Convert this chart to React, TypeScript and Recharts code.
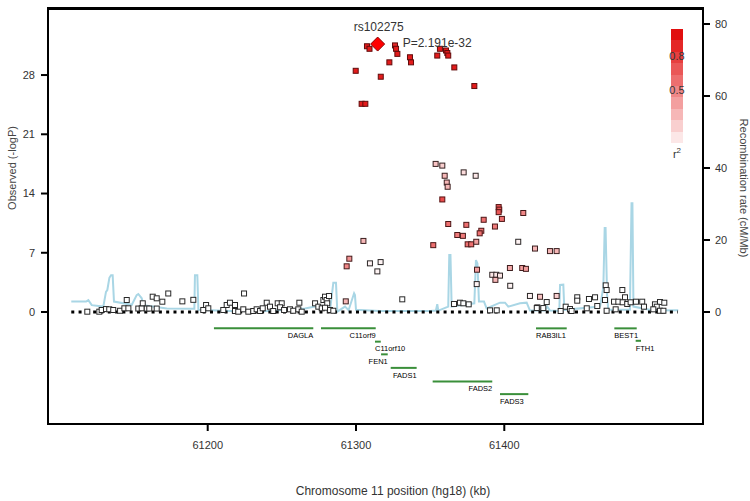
import React from 'react';
import { ComposedChart, Line, Scatter, XAxis, YAxis, ReferenceArea } from 'recharts';

const FONT = '"Liberation Sans", Arial, sans-serif';

// axes (kb on x, -logP on the left, cM/Mb on the right)
const xDomain: [number, number] = [61092.3, 61534];
const logPDomain: [number, number] = [-13.23, 35.92];
const recombDomain: [number, number] = [-31.11, 84.44];
const xTicks = [61200, 61300, 61400];
const logPTicks = [0, 7, 14, 21, 28];
const recombTicks = [0, 20, 40, 60, 80];

// index SNP
const leadName = 'rs102275';
const leadPvalue = 'P=2.191e-32';
const leadPos = 61314.6;
const leadLogP = 31.66;

// [position kb, -logP, r2]
const strongSnps: [number, number, number][] = [
  [61307.4, 31.4, 0.95], [61309.1, 31.1, 0.95], [61326.3, 31.5, 0.9], [61327.0, 31.1, 0.95],
  [61327.9, 30.5, 0.95], [61322.5, 29.5, 0.95], [61336.4, 30.1, 0.95], [61337.1, 29.5, 0.95],
  [61354.8, 30.3, 0.95], [61356.6, 31.1, 0.95], [61360.7, 30.9, 0.95], [61361.6, 30.6, 0.95],
  [61362.2, 30.3, 0.95], [61366.3, 28.9, 0.95], [61379.8, 26.7, 0.95], [61299.8, 28.5, 0.95],
  [61316.7, 27.8, 0.95], [61303.8, 24.6, 0.95], [61306.3, 24.6, 0.95],
];

const moderateSnps: [number, number, number][] = [
  [61358.2, 13.3, 0.75], [61396.2, 12.4, 0.7], [61396.6, 12.1, 0.7], [61396.2, 11.8, 0.7],
  [61412.8, 11.7, 0.5], [61398.4, 11.0, 0.6], [61386.1, 10.9, 0.6], [61362.2, 10.4, 0.6],
  [61374.4, 10.3, 0.6], [61393.7, 10.1, 0.55], [61384.5, 9.6, 0.6], [61383.4, 9.3, 0.6],
  [61368.3, 9.1, 0.55], [61372.1, 9.0, 0.55], [61375.3, 8.0, 0.6], [61377.7, 8.0, 0.6],
  [61381.1, 8.3, 0.4], [61352.1, 7.9, 0.6], [61420.7, 7.5, 0.3], [61430.8, 7.2, 0.3],
  [61435.3, 7.2, 0.3], [61353.7, 17.5, 0.25], [61358.2, 17.3, 0.2], [61359.8, 16.1, 0.3],
  [61372.6, 16.5, 0.15], [61380.7, 16.1, 0.1], [61361.2, 15.3, 0.3], [61361.8, 14.8, 0.3],
  [61305.0, 8.4, 0.3], [61295.5, 6.3, 0.45], [61293.7, 5.4, 0.5], [61381.6, 5.0, 0.4],
  [61394.0, 3.8, 0.3], [61403.8, 5.2, 0.35], [61412.1, 5.2, 0.4], [61414.6, 5.1, 0.4],
  [61293.1, 1.26, 0.3], [61424.1, 1.8, 0.25], [61435.3, 1.9, 0.2],
];

const weakSnps: [number, number, number][] = [
  [61409.4, 8.3, 0.05], [61309.4, 5.75, 0.05], [61316.6, 5.9, 0.05], [61314.4, 4.8, 0.05],
  [61381.4, 3.3, 0.05], [61391.9, 4.4, 0.1], [61394.6, 4.4, 0.1], [61397.1, 4.3, 0.1],
  [61404.0, 3.1, 0.05], [61417.3, 1.9, 0.05], [61422.3, 0.55, 0.05],
  [61118.8, 0.04, 0], [61126.9, 0.04, 0], [61128.5, 0.24, 0], [61131.4, 0.35, 0],
  [61133.6, 0.32, 0], [61136.3, 0.24, 0], [61140.9, 0.15, 0], [61143.8, 0.44, 0],
  [61145.4, 1.42, 0], [61146.5, 0.44, 0], [61153.2, 0.41, 0], [61155.5, 0.44, 0],
  [61156.2, 1.03, 0], [61158.9, 0.41, 0], [61160.6, 0.41, 0], [61162.9, 1.81, 0],
  [61165.6, 1.62, 0], [61165.6, 0.41, 0], [61169.4, 1.22, 0], [61173.4, 2.19, 0],
  [61182.9, 1.26, 0], [61190.3, 1.44, 0], [61198.9, 0.83, 0], [61197.0, 0.24, 0],
  [61200.4, 0.44, 0], [61210.5, 0.24, 0], [61212.8, 0.83, 0], [61215.0, 1.1, 0],
  [61218.4, 0.83, 0], [61224.5, 2.19, 0], [61218.4, 0.12, 0], [61220.6, 0.04, 0],
  [61224.0, 0.32, 0], [61227.4, 0.04, 0], [61230.7, 0.12, 0], [61233.0, 0.32, 0],
  [61235.3, 0.12, 0], [61237.1, 0.44, 0], [61239.8, 1.1, 0], [61242.0, 0.63, 0],
  [61244.2, 0.12, 0], [61247.2, 1.03, 0], [61249.9, 1.03, 0], [61248.8, 0.56, 0],
  [61251.5, 0.24, 0], [61255.5, 0.32, 0], [61257.7, 0.15, 0], [61261.8, 1.1, 0],
  [61261.1, 0.32, 0], [61263.4, 0.04, 0], [61272.4, 1.03, 0], [61274.6, 0.63, 0],
  [61278.0, 1.42, 0], [61279.1, 1.81, 0], [61280.2, 1.42, 0], [61280.6, 1.03, 0],
  [61281.8, 1.89, 0], [61276.9, 0.44, 0], [61279.1, 0.51, 0], [61282.5, 0.24, 0],
  [61284.7, 0.15, 0], [61331.2, 1.5, 0], [61366.1, 0.95, 0], [61370.1, 1.1, 0],
  [61372.4, 1.03, 0], [61376.0, 0.91, 0], [61390.4, 0.2, 0], [61394.9, 0.2, 0],
  [61428.6, 1.18, 0], [61421.9, 0.47, 0], [61426.3, 0.47, 0], [61441.4, 0.63, 0],
  [61444.3, 0.35, 0], [61445.4, 0.12, 0], [61438.0, 0.12, 0], [61449.2, 1.74, 0],
  [61449.2, 1.34, 0], [61455.6, 0.44, 0], [61457.1, 1.54, 0], [61461.2, 1.74, 0],
  [61462.7, 0.71, 0], [61467.9, 1.42, 0], [61468.4, 3.15, 0], [61469.0, 2.6, 0],
  [61469.0, 0.15, 0], [61474.0, 1.22, 0], [61476.9, 1.22, 0], [61475.1, 0.32, 0],
  [61479.6, 2.6, 0], [61481.4, 1.74, 0], [61479.8, 1.15, 0], [61482.9, 0.95, 0],
  [61485.2, 1.15, 0], [61488.8, 1.22, 0], [61493.0, 1.22, 0], [61494.2, 0.63, 0],
  [61501.6, 0.91, 0], [61505.0, 1.18, 0], [61507.9, 1.1, 0], [61502.8, 0.63, 0],
  [61500.5, 0.32, 0], [61505.0, 0.15, 0], [61507.3, 0.15, 0],
];

// recombination rate (cM/Mb)
const recombPos = [
  61108, 61118, 61119.5, 61121.8, 61129.6, 61131.4, 61132.3, 61133.7, 61134.8, 61135.9,
  61136.8, 61148.8, 61152.1, 61153.2, 61155.5, 61156.6, 61172.4, 61191.0, 61191.4, 61193.0,
  61193.7, 61215, 61240, 61265.6, 61272.4, 61282.5, 61284.7, 61286.5, 61287.4, 61292.6,
  61295, 61298.7, 61299.3, 61300.0, 61316, 61350, 61353.9, 61354.8, 61355.5, 61362.2,
  61362.9, 61363.7, 61364.5, 61379.8, 61380.9, 61381.9, 61382.9, 61386.3, 61388.1, 61397.1,
  61400.5, 61402.7, 61410.6, 61415.1, 61417.3, 61427.4, 61429.0, 61430.8, 61437.1, 61437.6,
  61439.8, 61440.5, 61464.6, 61466.8, 61467.7, 61468.3, 61469.3, 61470.1, 61484.7, 61485.8,
  61486.4, 61487.1, 61500.5, 61517.3,
];
const recombRate = [
  2.9, 2.9, 3.3, 1.9, 1.5, 5.6, 6.1, 9.5, 10.2, 10.2,
  2.9, 2.0, 4.7, 5.0, 3.8, 1.9, 1.0, 0.9, 10.2, 10.2,
  0.6, 0.3, 0.3, 1.0, 1.5, 0.5, 8.1, 8.1, 0.1, 1.5,
  0.5, 5.2, 4.7, 0.6, 0.3, 0.3, 0.4, 2.2, 0.4, 1.5,
  15.8, 15.8, 1.5, 2.4, 14.4, 13.5, 2.9, 2.9, 1.0, 2.6,
  2.6, 1.5, 2.4, 2.6, 0.4, 0.4, 1.5, 0.4, 0.3, 7.5,
  7.6, 0.6, 1.5, 7.0, 23.3, 23.3, 5.0, 0.6, 0.6, 30.2,
  30.2, 1.5, 0.4, 0.5,
];

// genes: name, start kb, end kb
const geneNames = ['DAGLA', 'C11orf9', 'C11orf10', 'FEN1', 'FADS1', 'FADS2', 'FADS3', 'RAB3IL1', 'BEST1', 'FTH1'];
const geneStart = [61204.2, 61276.4, 61312.8, 61316.9, 61323.4, 61351.7, 61397.1, 61421.4, 61474.2, 61488.6];
const geneEnd = [61271.2, 61313.3, 61316.7, 61321.4, 61340.9, 61391.9, 61416.2, 61442.1, 61489.3, 61492.2];
// track row (in -logP units) and label side
const geneRow = [-1.93, -1.93, -3.5, -5.0, -6.6, -8.2, -9.7, -1.93, -1.93, -3.4];
const geneLabelSide = ['end', 'end', 'start', 'end', 'end', 'end', 'start', 'start', 'start', 'start'];

const baselineSpan = [61108, 61517];
const legendSteps = [1, 0.9, 0.8, 0.7, 0.6, 0.5, 0.4, 0.3, 0.2, 0.1];

const toRows = (list: [number, number, number][]) => list.map(([kb, logP, r2]) => ({ kb, logP, r2 }));
const snpData = [...toRows(weakSnps), ...toRows(moderateSnps), ...toRows(strongSnps)];
const recombData = recombPos.map((kb, i) => ({ kb, rate: recombRate[i] }));

const fillFor = (r2: number) => {
  const g = Math.round(255 - 240 * r2);
  const r = Math.round(255 - 30 * r2);
  return `rgb(${r},${g},${g})`;
};
const strokeFor = (r2: number) => {
  const r = Math.round(40 + 60 * r2);
  const g = Math.round(40 - 30 * r2);
  return `rgb(${r},${g},${g})`;
};

const SnpSquare = (props: any) => {
  const { cx, cy, payload } = props;
  if (cx == null || cy == null) return null;
  return (
    <rect x={cx - 2.5} y={cy - 2.5} width={5} height={5}
      fill={fillFor(payload.r2)} stroke={strokeFor(payload.r2)} strokeWidth={1} />
  );
};

const LeadDiamond = (props: any) => {
  const { cx, cy } = props;
  if (cx == null || cy == null) return null;
  return (
    <g>
      <polygon points={`${cx},${cy - 7} ${cx + 7},${cy} ${cx},${cy + 7} ${cx - 7},${cy}`}
        fill="#ff0000" stroke="#8a0000" strokeWidth={1} />
      <text x={cx - 24} y={cy - 13} fontSize={12} fontFamily={FONT} fill="#333">{leadName}</text>
      <text x={cx + 25} y={cy + 2.5} fontSize={12} fontFamily={FONT} fill="#333">{leadPvalue}</text>
    </g>
  );
};

const geneLabel = (name: string, side: string) => (props: any) => {
  const { x, y, index } = props;
  const wanted = side === 'start' ? 0 : 1;
  if (index !== wanted) return null;
  return (
    <text key={name} x={x} y={y + 9.7} fontSize={7.5} fontFamily={FONT} fill="#000"
      stroke="none" textAnchor={side}>{name}</text>
  );
};

const axisLine = { stroke: '#000', strokeWidth: 2 };
const tickLine = { stroke: '#000', strokeWidth: 2 };
const tickStyle = { fill: '#333', fontSize: 11, fontFamily: FONT };

export default function App() {
  return (
    <div style={{ position: 'absolute', left: 0, top: 0, width: 750, height: 501, background: '#fff' }}>
      <ComposedChart width={750} height={501} margin={{ top: 8, right: 0, bottom: 0, left: 0 }}>
        <XAxis type="number" dataKey="kb" domain={xDomain} ticks={xTicks} height={77}
          allowDataOverflow axisLine={axisLine} tickLine={tickLine} tickSize={7} tickMargin={10}
          tick={tickStyle}
          label={{
            content: () => (
              <text x={393} y={495} textAnchor="middle" fontSize={12} fontFamily={FONT} fill="#333">
                Chromosome 11 position (hg18) (kb)
              </text>
            ),
          }} />
        <YAxis yAxisId="left" type="number" dataKey="logP" domain={logPDomain} ticks={logPTicks}
          width={48} allowDataOverflow axisLine={axisLine} tickLine={tickLine} tickSize={7}
          tickMargin={6} tick={tickStyle}
          label={{
            content: () => (
              <text x={16} y={168} transform="rotate(-90 16 168)" textAnchor="middle"
                fontSize={11} fontFamily={FONT} fill="#444">Observed (-logP)</text>
            ),
          }} />
        <YAxis yAxisId="right" orientation="right" type="number" domain={recombDomain}
          ticks={recombTicks} width={47} allowDataOverflow axisLine={axisLine} tickLine={tickLine}
          tickSize={7} tickMargin={5} tick={tickStyle}
          label={{
            content: () => (
              <text x={740} y={188} transform="rotate(90 740 188)" textAnchor="middle"
                fontSize={11} fontFamily={FONT} fill="#444">Recombination rate (cM/Mb)</text>
            ),
          }} />

        {/* plot frame */}
        <ReferenceArea yAxisId="left" x1={xDomain[0]} x2={xDomain[1]} y1={logPDomain[0]} y2={logPDomain[1]}
          fill="none" fillOpacity={0} stroke="#000" strokeWidth={2} strokeOpacity={1} ifOverflow="visible" />

        <Line yAxisId="right" data={recombData} dataKey="rate" type="linear" stroke="#a9d6e5"
          strokeWidth={2} dot={false} activeDot={false} isAnimationActive={false} />

        <Line yAxisId="left" data={baselineSpan.map(kb => ({ kb, base: 0 }))} dataKey="base"
          stroke="#000" strokeWidth={3} strokeDasharray="3 4.3" dot={false} activeDot={false}
          isAnimationActive={false} />

        {geneNames.map((name, i) => (
          <Line key={name} yAxisId="left"
            data={[{ kb: geneStart[i], gene: geneRow[i] }, { kb: geneEnd[i], gene: geneRow[i] }]}
            dataKey="gene" stroke="#3a8f3a" strokeWidth={2} dot={false} activeDot={false}
            label={geneLabel(name, geneLabelSide[i])} isAnimationActive={false} />
        ))}

        <Scatter yAxisId="left" data={snpData} dataKey="logP" shape={SnpSquare}
          isAnimationActive={false} />
        <Scatter yAxisId="left" data={[{ kb: leadPos, logP: leadLogP }]} dataKey="logP"
          shape={LeadDiamond} isAnimationActive={false} />
      </ComposedChart>

      <div style={{ position: 'absolute', left: 47, top: 8, width: 657, height: 2, background: '#000', zIndex: 5 }} />

      <div style={{ position: 'absolute', left: 671, top: 29, width: 12 }}>
        {legendSteps.map(s => (
          <div key={s} style={{ height: 11.4, background: fillFor(s) }} />
        ))}
      </div>
      <div style={{ position: 'absolute', left: 665, top: 50, width: 24, textAlign: 'center',
        fontFamily: FONT, fontSize: 11, color: '#333', lineHeight: '13px' }}>0.8</div>
      <div style={{ position: 'absolute', left: 665, top: 84, width: 24, textAlign: 'center',
        fontFamily: FONT, fontSize: 11, color: '#333', lineHeight: '13px' }}>0.5</div>
      <div style={{ position: 'absolute', left: 665, top: 144, width: 24, textAlign: 'center',
        fontFamily: FONT, fontSize: 11, color: '#333', lineHeight: '13px' }}>
        r<sup style={{ fontSize: 8 }}>2</sup>
      </div>
    </div>
  );
}
